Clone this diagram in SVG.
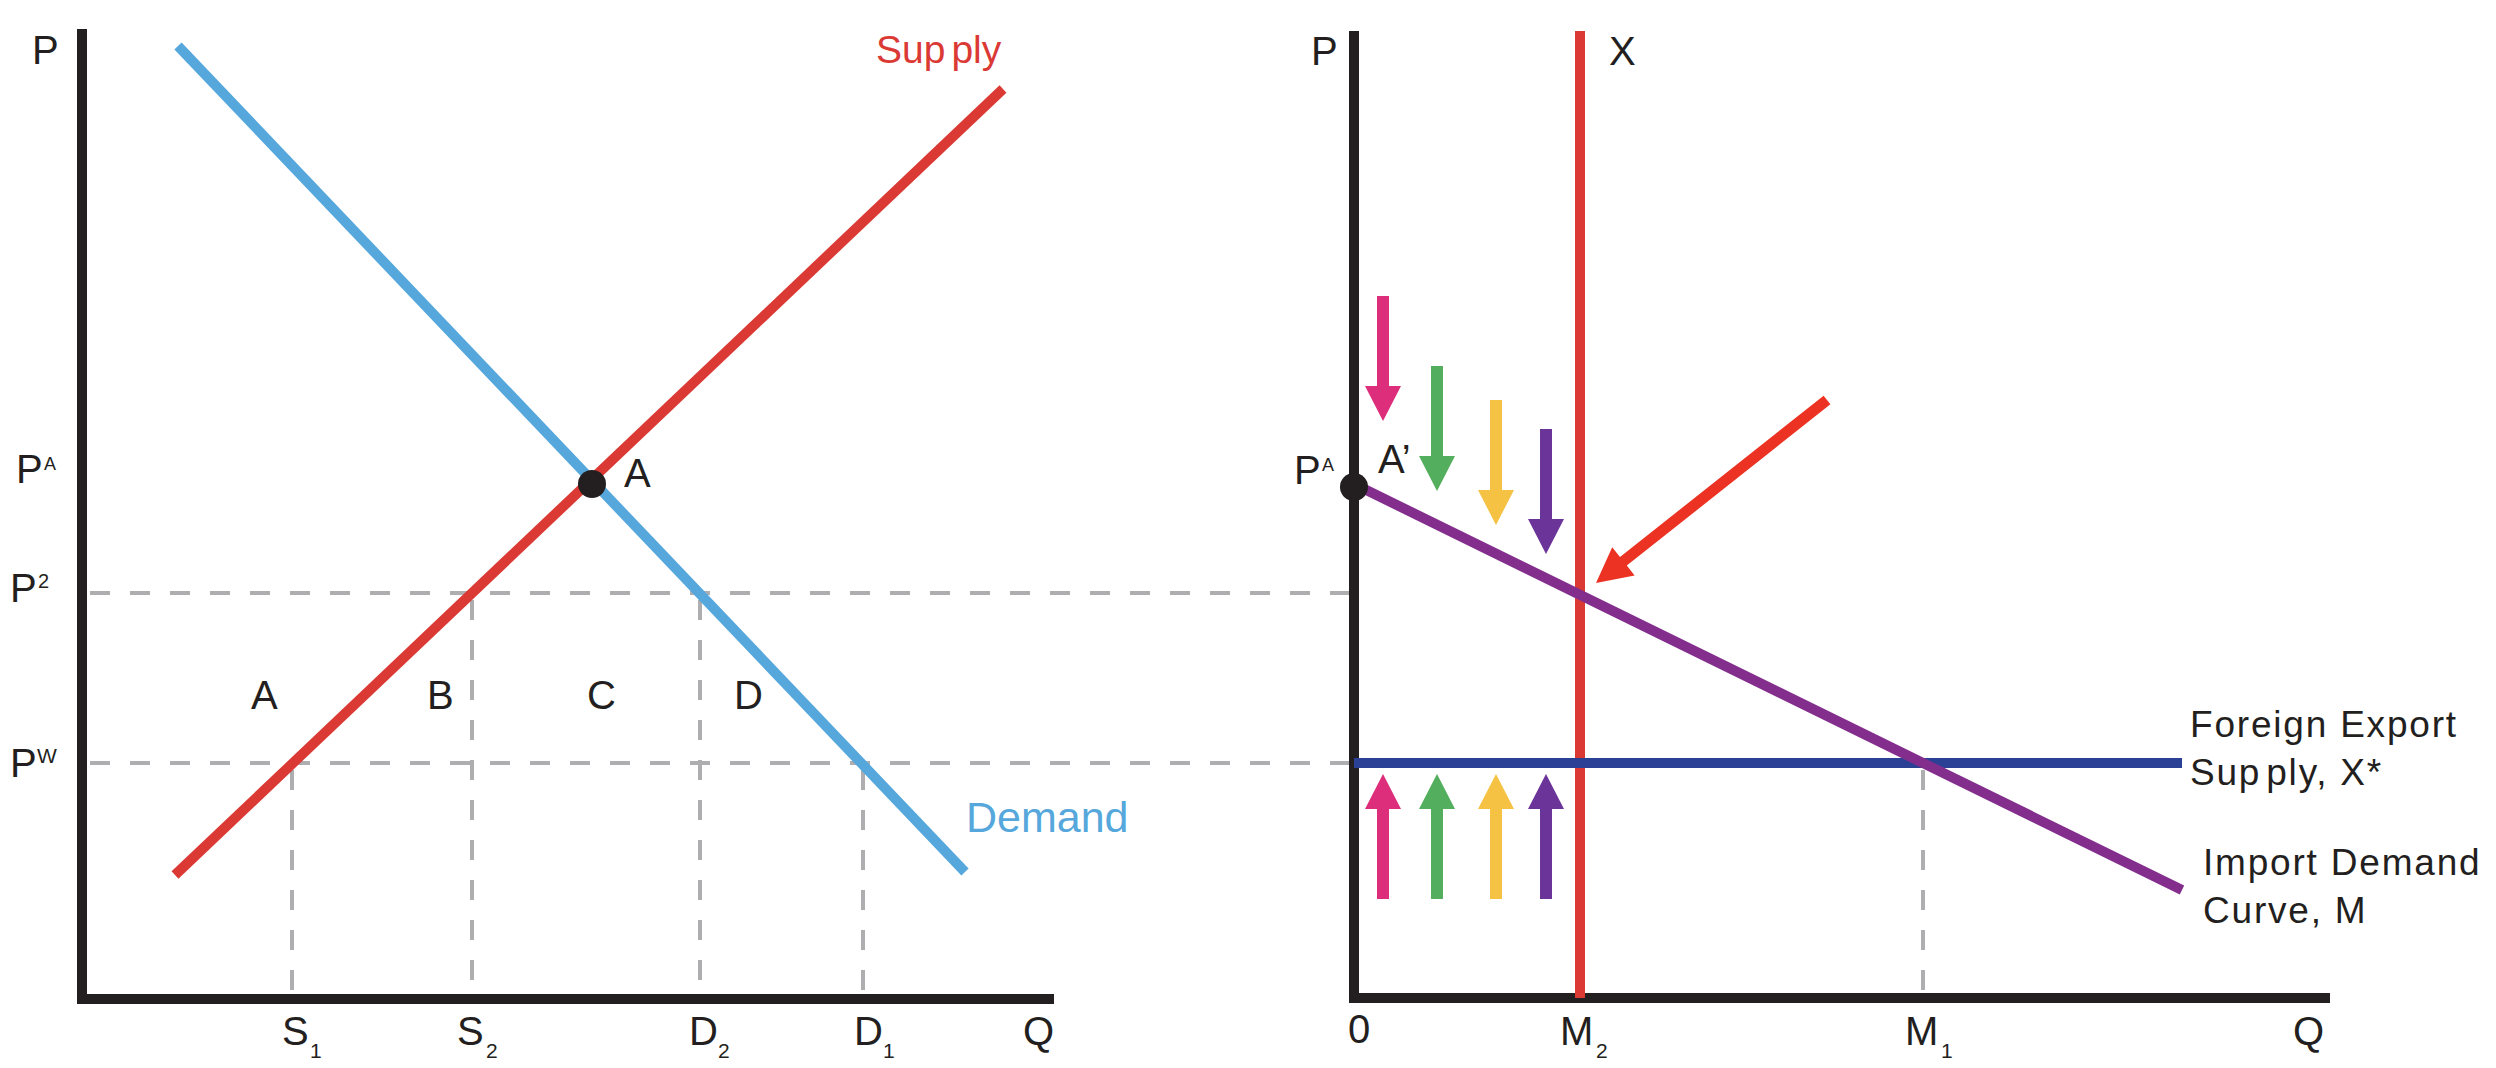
<svg xmlns="http://www.w3.org/2000/svg" xmlns:xlink="http://www.w3.org/1999/xlink" width="2496" height="1068" viewBox="0 0 2496 1068">
  <style>
    .axis { stroke: #231f20; stroke-width: 10; fill: none; }
    .guide { stroke: #aeaeb1; stroke-width: 4; stroke-dasharray: 20 20; fill: none; }
    .curve { stroke-width: 10; fill: none; stroke-linecap: butt; }
    text { font-family: "Liberation Sans", Arial, Helvetica, sans-serif; fill: #231f20; }
    .lbl { font-size: 40px; }
    .sub { font-size: 21px; }
    .sup { font-size: 18px; }
    .side { font-size: 37px; letter-spacing: 1.8px; }
  </style>
  <defs>
    <path id="arr" d="M-6,0 H6 V90 H18 L0,125 L-18,90 H-6 Z"/>
  </defs>

  <!-- Dashed guides -->
  <g id="guides">
    <line class="guide" x1="90" y1="593" x2="1350" y2="593"/>
    <line class="guide" x1="90" y1="763" x2="1350" y2="763"/>
    <line class="guide" x1="292" y1="770" x2="292" y2="995"/>
    <line class="guide" x1="472" y1="600" x2="472" y2="995"/>
    <line class="guide" x1="700" y1="600" x2="700" y2="995"/>
    <line class="guide" x1="863" y1="770" x2="863" y2="995"/>
    <line class="guide" x1="1923" y1="770" x2="1923" y2="995"/>
  </g>

  <!-- Left chart -->
  <g id="left-axes">
    <polyline class="axis" points="82,29 82,999 1054,999"/>
  </g>
  <g id="demand-curve">
    <line class="curve" stroke="#55a7dc" x1="178" y1="46" x2="965" y2="872"/>
  </g>
  <g id="supply-curve">
    <line class="curve" stroke="#db3934" x1="175" y1="875" x2="1003" y2="89"/>
  </g>
  <g id="point-A">
    <circle cx="592" cy="484" r="14" fill="#231f20"/>
    <text class="lbl" x="624" y="487">A</text>
  </g>
  <g id="left-labels">
    <text class="lbl" x="32" y="64">P</text>
    <text class="lbl" x="16" y="483">P<tspan class="sup" x="44" y="470">A</tspan></text>
    <text class="lbl" x="10" y="602">P<tspan class="sup" style="font-size:20px" x="38" y="588">2</tspan></text>
    <text class="lbl" x="10" y="777">P<tspan class="sup" style="font-size:21px" x="37" y="763">W</tspan></text>
    <text class="lbl" x="251" y="709">A</text>
    <text class="lbl" x="427" y="709">B</text>
    <text class="lbl" x="587" y="709">C</text>
    <text class="lbl" x="734" y="709">D</text>
    <text class="lbl" x="282" y="1045">S<tspan class="sub" x="310" y="1058">1</tspan></text>
    <text class="lbl" x="457" y="1045">S<tspan class="sub" x="486" y="1058">2</tspan></text>
    <text class="lbl" x="689" y="1045">D<tspan class="sub" x="718" y="1058">2</tspan></text>
    <text class="lbl" x="854" y="1045">D<tspan class="sub" x="883" y="1058">1</tspan></text>
    <text class="lbl" x="1023" y="1045">Q</text>
    <text x="876" y="63" style="font-size:39px; fill:#db3934">Sup<tspan dx="6">ply</tspan></text>
    <text x="966" y="832" style="font-size:43px; fill:#55a7dc">Demand</text>
  </g>

  <!-- Right chart -->
  <g id="right-axes">
    <polyline class="axis" points="1354,31 1354,998 2330,998"/>
  </g>
  <g id="export-supply-X">
    <line class="curve" stroke="#db3934" x1="1580" y1="31" x2="1580" y2="998"/>
  </g>
  <g id="foreign-export-supply">
    <line class="curve" stroke="#2a4196" x1="1354" y1="763" x2="2182" y2="763"/>
  </g>
  <g id="import-demand">
    <line class="curve" stroke="#832e8d" x1="1354" y1="484" x2="2182" y2="890"/>
  </g>
  <g id="point-A-prime">
    <circle cx="1354" cy="487" r="14" fill="#231f20"/>
    <text class="lbl" x="1378" y="473">A’</text>
  </g>
  <g id="right-labels">
    <text class="lbl" x="1311" y="65">P</text>
    <text class="lbl" x="1609" y="65">X</text>
    <text class="lbl" x="1294" y="484">P<tspan class="sup" x="1322" y="471">A</tspan></text>
    <text class="lbl" x="1348" y="1043">0</text>
    <text class="lbl" x="1560" y="1045">M<tspan class="sub" x="1596" y="1058">2</tspan></text>
    <text class="lbl" x="1905" y="1045">M<tspan class="sub" x="1941" y="1058">1</tspan></text>
    <text class="lbl" x="2293" y="1045">Q</text>
    <text class="side" x="2190" y="737">Foreign Export</text>
    <text class="side" x="2190" y="785">Sup<tspan dx="5">ply, X*</tspan></text>
    <text class="side" x="2203" y="875">Import Demand</text>
    <text class="side" x="2203" y="923">Curve, M</text>
  </g>

  <!-- Arrows -->
  <g id="connectors">
    <use xlink:href="#arr" href="#arr" fill="#dc2e7b" transform="translate(1383,296)"/>
    <use xlink:href="#arr" href="#arr" fill="#53ae5d" transform="translate(1437,366)"/>
    <use xlink:href="#arr" href="#arr" fill="#f5c243" transform="translate(1496,400)"/>
    <use xlink:href="#arr" href="#arr" fill="#6a3499" transform="translate(1546,429)"/>
    <use xlink:href="#arr" href="#arr" fill="#dc2e7b" transform="translate(1383,899) scale(1,-1)"/>
    <use xlink:href="#arr" href="#arr" fill="#53ae5d" transform="translate(1437,899) scale(1,-1)"/>
    <use xlink:href="#arr" href="#arr" fill="#f5c243" transform="translate(1496,899) scale(1,-1)"/>
    <use xlink:href="#arr" href="#arr" fill="#6a3499" transform="translate(1546,899) scale(1,-1)"/>
    <polygon fill="#ec3323" points="1823.6,395.7 1830.4,404.3 1626.8,565.6 1634.6,575.4 1596,583 1612.2,547.2 1620,557"/>
  </g>
</svg>
